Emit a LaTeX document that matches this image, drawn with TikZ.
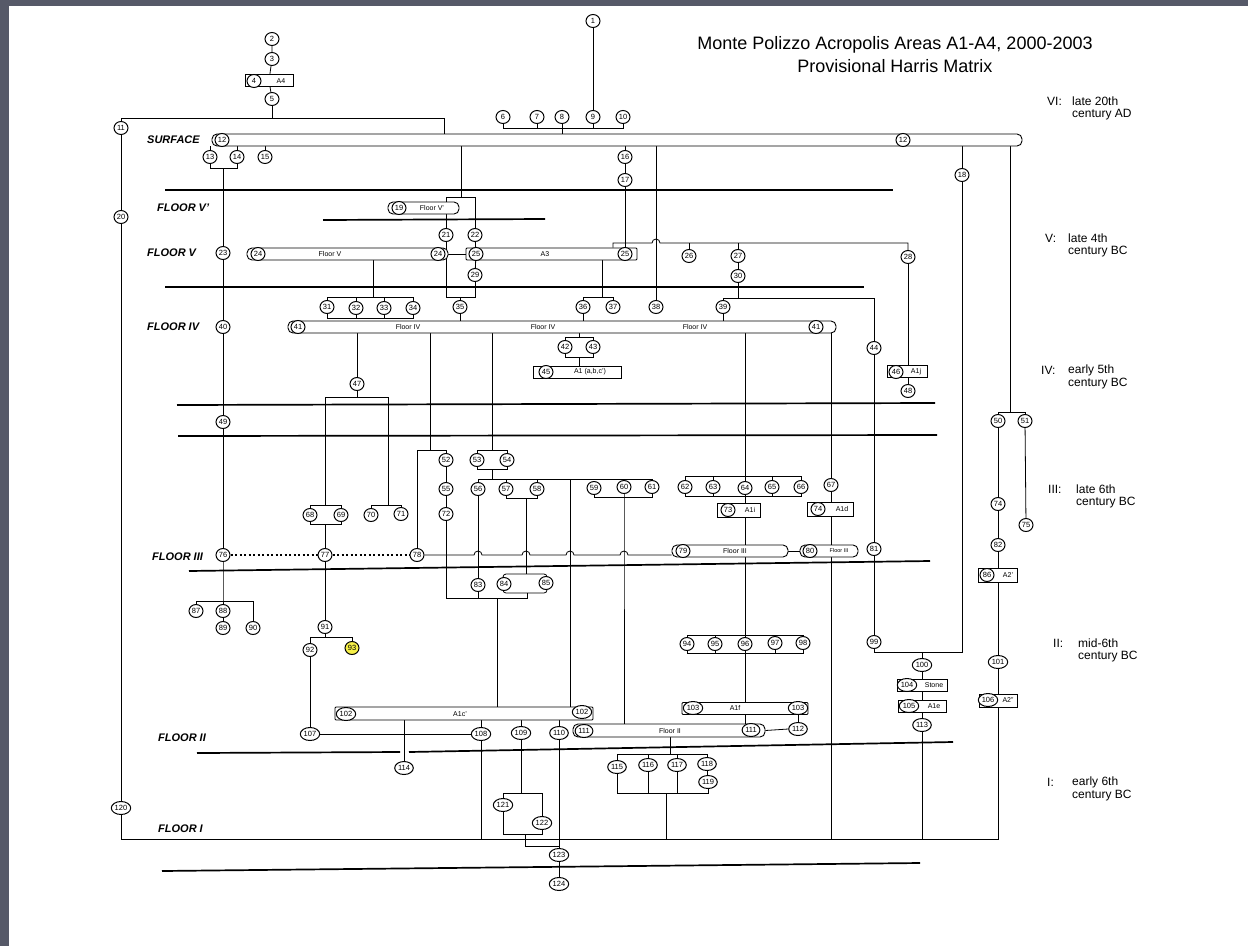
\documentclass[tikz,border=0pt]{standalone}
\usepackage{fontspec}
\setmainfont{Liberation Sans}
\usetikzlibrary{shapes.geometric}
\pgfdeclarelayer{back}
\pgfdeclarelayer{bg}
\pgfsetlayers{back,bg,main}
\definecolor{frame}{RGB}{86,89,104}
\definecolor{hilite}{RGB}{246,240,72}
\begin{document}
\begin{tikzpicture}[x=1pt,y=-1pt,
  circ/.style={ellipse,draw,line width=1pt,fill=white,inner sep=0.6pt,minimum width=14pt,minimum height=13pt,font=\fontsize{7.5}{8}\selectfont},
  bar/.style={draw,line width=0.9pt,rounded corners=5pt,fill=white,minimum height=12pt,inner sep=0pt},
  boxa/.style={draw,line width=0.9pt,fill=white,minimum height=12pt,inner sep=0pt},
  lbl/.style={font=\fontsize{7}{8}\selectfont,inner sep=0pt},
  ln/.style={line width=0.8pt},
  sep/.style={line width=1.7pt},
  floor/.style={font=\fontsize{11}{13}\selectfont\bfseries\itshape,anchor=west,inner sep=0pt},
  per/.style={font=\fontsize{12}{14}\selectfont,anchor=west,inner sep=0pt}
]
\useasboundingbox (0,0) rectangle (1248,946);
\begin{pgfonlayer}{back}
\fill[frame] (0,0) rectangle (1248,946);
\fill[white] (9,6) rectangle (1248,946);
\end{pgfonlayer}

% ---------- titles and labels
\node[font=\fontsize{18}{21}\selectfont,inner sep=0pt] (title1) at (895,45) {Monte Polizzo Acropolis Areas A1-A4, 2000-2003};
\node[font=\fontsize{18}{21}\selectfont,inner sep=0pt] (title2) at (895,66) {Provisional Harris Matrix};

\node[per] (pVIa) at (1047,101) {VI:};
\node[per] (pVIb) at (1072,101) {late 20th};
\node[per] (pVIc) at (1072,115) {century AD};
\node[per] (pVa) at (1045,238) {V:};
\node[per] (pVb) at (1068,238) {late 4th};
\node[per] (pVc) at (1068,252) {century BC};
\node[per] (pIVa) at (1041,370) {IV:};
\node[per] (pIVb) at (1068,370) {early 5th};
\node[per] (pIVc) at (1068,384) {century BC};
\node[per] (pIIIa) at (1048,489) {III:};
\node[per] (pIIIb) at (1076,489) {late 6th};
\node[per] (pIIIc) at (1076,503) {century BC};
\node[per] (pIIa) at (1053,643) {II:};
\node[per] (pIIb) at (1078,643) {mid-6th};
\node[per] (pIIc) at (1078,657) {century BC};
\node[per] (pIa) at (1047,782) {I:};
\node[per] (pIb) at (1072,782) {early 6th};
\node[per] (pIc) at (1072,796) {century BC};

\node[floor] (fS) at (147,140) {SURFACE};
\node[floor] (fV2) at (157,208) {FLOOR V'};
\node[floor] (fV) at (147,253) {FLOOR V};
\node[floor] (fIV) at (147,327) {FLOOR IV};
\node[floor] (fIII) at (152,557) {FLOOR III};
\node[floor] (fII) at (158,738) {FLOOR II};
\node[floor] (fI) at (158,829) {FLOOR I};

% ---------- bars and boxes
\node[bar,minimum width=810pt] (b12) at (617,140) {};
\node[bar,minimum width=71pt] (box19) at (423.5,208) {};
\node[bar,minimum width=201pt] (bFV) at (347.5,254) {};
\node[bar,minimum width=171pt,rounded corners=1pt] (bA3) at (551.5,254) {};
\node[bar,minimum width=548pt] (bFIV) at (562,327) {};
\node[bar,minimum width=116pt] (b79) at (730,551) {};
\node[bar,minimum width=58pt] (b80) at (829,551) {};
\node[bar,minimum width=258pt,minimum height=13pt,rounded corners=1pt] (bA1c) at (464,713.5) {};
\node[bar,minimum width=126pt,rounded corners=1pt] (bA1f) at (745,708.5) {};
\node[bar,minimum width=192pt,minimum height=13pt] (bFII) at (669,730.5) {};
\node[boxa,minimum width=48pt] (box4) at (269,80.5) {};
\node[boxa,minimum width=88pt] (box45) at (577,372) {};
\node[boxa,minimum width=40pt] (box46) at (907,371.5) {};
\node[boxa,minimum width=43pt,minimum height=14pt] (box73) at (738.5,510) {};
\node[boxa,minimum width=46pt,minimum height=14pt] (box74) at (830,509) {};
\node[boxa,minimum width=39pt,minimum height=14pt] (box86) at (998,575) {};
\node[boxa,minimum width=50pt] (box104) at (922,685.5) {};
\node[boxa,minimum width=48pt] (box105) at (922,706) {};
\node[boxa,minimum width=38pt,minimum height=13pt] (box106) at (998,700.5) {};
\node[draw,line width=0.8pt,minimum width=39pt,minimum height=41pt,inner sep=0pt] (box121) at (522.5,813.5) {};
\node[draw,line width=0.8pt,rounded corners=3pt,minimum width=44pt,minimum height=19pt,inner sep=0pt] (box84) at (525,583.5) {};

\node[lbl] (tFV) at (330,254) {Floor V};
\node[lbl] (tA3) at (545,254) {A3};
\node[lbl] (tFIVa) at (408,327) {Floor IV};
\node[lbl] (tFIVb) at (543,327) {Floor IV};
\node[lbl] (tFIVc) at (695,327) {Floor IV};
\node[lbl] (t19) at (432,208) {Floor V'};
\node[lbl] (t4) at (281,81) {A4};
\node[lbl] (t45) at (590,372) {A1 (a,b,c')};
\node[lbl] (t46) at (916,372) {A1j};
\node[lbl] (t73) at (750,510) {A1i};
\node[lbl] (t74) at (842,509) {A1d};
\node[lbl] (t79) at (735,551) {Floor III};
\node[lbl,font=\fontsize{5.5}{6}\selectfont] (t80) at (839,551) {Floor III};
\node[lbl] (t86) at (1008,575) {A2'};
\node[lbl] (t104) at (934,685) {Stone};
\node[lbl] (t105) at (934,706) {A1e};
\node[lbl] (t106) at (1008,700) {A2''};
\node[lbl] (tA1c) at (460,714) {A1c'};
\node[lbl] (tA1f) at (735,708) {A1f};
\node[lbl] (tFII) at (670,731) {Floor II};

% ---------- context circles
\node[circ] (n1) at (593,21) {1};
\node[circ] (n2) at (272,39) {2};
\node[circ] (n3) at (272,59) {3};
\node[circ] (c4) at (254,81) {4};
\node[circ] (n5) at (272,99) {5};
\node[circ] (n6) at (503,117) {6};
\node[circ] (n7) at (537,117) {7};
\node[circ] (n8) at (562,117) {8};
\node[circ] (n9) at (593,117) {9};
\node[circ] (n10) at (623,117) {10};
\node[circ] (n11) at (121,128) {11};
\node[circ] (n12a) at (222,140) {12};
\node[circ] (n12b) at (903,140) {12};
\node[circ] (n13) at (210,157) {13};
\node[circ] (n14) at (237,157) {14};
\node[circ] (n15) at (265,157) {15};
\node[circ] (n16) at (625,157) {16};
\node[circ] (n17) at (625,180) {17};
\node[circ] (n18) at (962,175) {18};
\node[circ] (c19) at (399,208) {19};
\node[circ] (n20) at (121,217) {20};
\node[circ] (n21) at (446,235) {21};
\node[circ] (n22) at (475,235) {22};
\node[circ] (n23) at (223,253) {23};
\node[circ] (n24a) at (258,254) {24};
\node[circ] (n24b) at (438,254) {24};
\node[circ] (n25a) at (476,254) {25};
\node[circ] (n25b) at (625,254) {25};
\node[circ] (n26) at (689,256) {26};
\node[circ] (n27) at (738,256) {27};
\node[circ] (n28) at (908,257) {28};
\node[circ] (n29) at (475,275) {29};
\node[circ] (n30) at (738,276) {30};
\node[circ] (n31) at (327,307) {31};
\node[circ] (n32) at (356,308) {32};
\node[circ] (n33) at (384,308) {33};
\node[circ] (n34) at (413,308) {34};
\node[circ] (n35) at (460,307) {35};
\node[circ] (n36) at (583,307) {36};
\node[circ] (n37) at (613,307) {37};
\node[circ] (n38) at (656,307) {38};
\node[circ] (n39) at (723,307) {39};
\node[circ] (n40) at (223,327) {40};
\node[circ] (n41a) at (298,327) {41};
\node[circ] (n41b) at (816,327) {41};
\node[circ] (n42) at (565,347) {42};
\node[circ] (n43) at (593,347) {43};
\node[circ] (n44) at (874,348) {44};
\node[circ] (c45) at (546,372) {45};
\node[circ] (c46) at (896,372) {46};
\node[circ] (n47) at (357,384) {47};
\node[circ] (n48) at (908,391) {48};
\node[circ] (n49) at (223,422) {49};
\node[circ] (n50) at (998,421) {50};
\node[circ] (n51) at (1025,421) {51};
\node[circ] (n52) at (446,460) {52};
\node[circ] (n53) at (477,460) {53};
\node[circ] (n54) at (507,460) {54};
\node[circ] (n55) at (446,489) {55};
\node[circ] (n56) at (478,489) {56};
\node[circ] (n57) at (506,489) {57};
\node[circ] (n58) at (537,489) {58};
\node[circ] (n59) at (594,488) {59};
\node[circ] (n60) at (624,487) {60};
\node[circ] (n61) at (652,487) {61};
\node[circ] (n62) at (685,487) {62};
\node[circ] (n63) at (713,487) {63};
\node[circ] (n64) at (745,488) {64};
\node[circ] (n65) at (772,487) {65};
\node[circ] (n66) at (801,487) {66};
\node[circ] (n67) at (831,485) {67};
\node[circ] (n68) at (310,515) {68};
\node[circ] (n69) at (341,515) {69};
\node[circ] (n70) at (371,515) {70};
\node[circ] (n71) at (401,514) {71};
\node[circ] (n72) at (446,514) {72};
\node[circ] (c73) at (728,510) {73};
\node[circ] (c74) at (818,509) {74};
\node[circ] (n74) at (998,504) {74};
\node[circ] (n75) at (1026,525) {75};
\node[circ] (n76) at (223,555) {76};
\node[circ] (n77) at (325,555) {77};
\node[circ] (n78) at (417,555) {78};
\node[circ] (c79) at (683,551) {79};
\node[circ] (c80) at (810,551) {80};
\node[circ] (n81) at (874,549) {81};
\node[circ] (n82) at (998,545) {82};
\node[circ] (n83) at (478,585) {83};
\node[circ] (n84) at (504,584) {84};
\node[circ] (n85) at (546,583) {85};
\node[circ] (c86) at (987,575) {86};
\node[circ] (n87) at (196,611) {87};
\node[circ] (n88) at (223,611) {88};
\node[circ] (n89) at (223,628) {89};
\node[circ] (n90) at (253,628) {90};
\node[circ] (n91) at (325,627) {91};
\node[circ] (n92) at (310,650) {92};
\node[circ,fill=hilite] (n93) at (352,648) {93};
\node[circ] (n94) at (687,644) {94};
\node[circ] (n95) at (715,644) {95};
\node[circ] (n96) at (745,644) {96};
\node[circ] (n97) at (775,643) {97};
\node[circ] (n98) at (803,643) {98};
\node[circ] (n99) at (874,642) {99};
\node[circ] (n100) at (922,665) {100};
\node[circ] (n101) at (998,662) {101};
\node[circ] (n102a) at (346,714) {102};
\node[circ] (n102b) at (582,712) {102};
\node[circ] (n103a) at (693,708) {103};
\node[circ] (n103b) at (798,708) {103};
\node[circ] (c104) at (907,685) {104};
\node[circ] (c105) at (909,706) {105};
\node[circ] (c106) at (988,700) {106};
\node[circ] (n107) at (310,734) {107};
\node[circ] (n108) at (481,734) {108};
\node[circ] (n109) at (521,733) {109};
\node[circ] (n110) at (559,733) {110};
\node[circ] (n111a) at (584,731) {111};
\node[circ] (n111b) at (751,730) {111};
\node[circ] (n112) at (798,729) {112};
\node[circ] (n113) at (922,725) {113};
\node[circ] (n114) at (404,768) {114};
\node[circ] (n115) at (617,767) {115};
\node[circ] (n116) at (648,765) {116};
\node[circ] (n117) at (677,765) {117};
\node[circ] (n118) at (707,764) {118};
\node[circ] (n119) at (708,782) {119};
\node[circ] (n120) at (121,808) {120};
\node[circ] (n121) at (503,805) {121};
\node[circ] (n122) at (542,823) {122};
\node[circ] (n123) at (559,855) {123};
\node[circ] (n124) at (559,884) {124};

% ---------- junction coordinates
\coordinate (j5) at (444,118);
\coordinate (j6) at (562,128);
\coordinate (bl) at (121,839);
\coordinate (br) at (998,839);
\coordinate (j13) at (223,168);
\coordinate (j87) at (223,601);
\coordinate (j19) at (461,197);
\coordinate (j19l) at (446,197);
\coordinate (j19r) at (475,197);
\coordinate (j35) at (460,297);
\coordinate (j31) at (373,297);
\coordinate (j31b) at (373,318);
\coordinate (j36) at (602,297);
\coordinate (jA) at (613,243);
\coordinate (jB) at (908,243);
\coordinate (j39) at (738,298);
\coordinate (j100) at (922,652);
\coordinate (j50) at (1010,412);
\coordinate (j42) at (579,337);
\coordinate (j42b) at (579,357);
\coordinate (j47l) at (325,397);
\coordinate (j47r) at (388,397);
\coordinate (j68) at (325,505);
\coordinate (j68b) at (325,524);
\coordinate (j70) at (388,505);
\coordinate (j91) at (325,637);
\coordinate (j121) at (525,846);
\coordinate (j52) at (430,450);
\coordinate (j83) at (497,598);
\coordinate (j85) at (527,598);
\coordinate (j53) at (492,450);
\coordinate (j53b) at (492,469);
\coordinate (j56) at (492,479);
\coordinate (j570) at (570,479);
\coordinate (j57b) at (526,498);
\coordinate (j60) at (624,497);
\coordinate (j62) at (745,476);
\coordinate (j62b) at (745,496);
\coordinate (j94) at (745,635);
\coordinate (j94b) at (745,653);
\coordinate (j115) at (670,754);
\coordinate (j115b) at (666,793);

\begin{pgfonlayer}{bg}
% separators
\draw[sep] (165,190) -- (893,190);
\draw[sep] (323,220) -- (545,219);
\draw[sep] (165,287) -- (864,287);
\draw[sep] (177,405) -- (935,403);
\draw[sep] (178,436) -- (937,435);
\draw[sep] (189,571) -- (930,561);
\draw[sep] (197,753) -- (400,752);
\draw[sep] (409,752) -- (953,742);
\draw[sep] (162,871) -- (920,863);

\begin{scope}[ln]
% top
\draw (n1) -- (n9);
\draw (n2) -- (n3) -- (box4) -- (n5);
\draw (n11.north) |- (j5) -- (j5 |- b12.north);
\draw (n5.south) -- (n5.south |- j5);
\draw (n6.south) -- (n6.south |- j6) -- (n10.south |- j6) -- (n10.south);
\foreach \k in {7,8,9} \draw (n\k.south) -- (n\k.south |- j6);
\draw (j6) -- (j6 |- b12.north);
% left column
\draw (n11) -- (n20) -- (n120) -- (bl) -- (br) -- (box106);
\foreach \k in {13,14,15} \draw (n\k.north) -- (n\k.north |- b12.south);
\draw (n13.south) -- (n13.south |- j13) -- (n14.south |- j13) -- (n14.south);
\draw (j13) -- (n23) -- (n40) -- (n49) -- (n76) -- (j87) -- (n88) -- (n89);
\draw (n87.north) -- (n87.north |- j87) -- (n90.north |- j87) -- (n90.north);
% floor V'
\draw (j19 |- b12.south) -- (j19);
\draw (j19l |- box19.north) -- (j19l) -- (j19r) -- (n22.north);
\draw (n21.north) -- (n21.north |- box19.south);
\draw (n21.south) -- (n21.south |- j35) -- (n29.south |- j35) -- (n29.south);
\draw (n35.north) -- (n35.north |- j35);
\draw (n35.south) -- (n35.south |- bFIV.north);
\draw (n24b.east) -- (bA3.west);
\draw (n22) -- (n25a) -- (n29);
% floor V
\draw (j31 |- bFV.south) -- (j31);
\draw (n31.north) -- (n31.north |- j31) -- (n34.north |- j31) -- (n34.north);
\draw (n31.south) -- (n31.south |- j31b) -- (n34.south |- j31b) -- (n34.south);
\foreach \k in {32,33} {\draw (n\k.north) -- (n\k.north |- j31); \draw (n\k.south) -- (n\k.south |- j31b);}
\draw (j36 |- bA3.south) -- (j36);
\draw (n36.north) -- (n36.north |- j36) -- (n37.north |- j36) -- (n37.north);
\draw (n36.south) -- (n36.south |- bFIV.north);
\draw (n16.north) -- (n16.north |- b12.south);
\draw (n16) -- (n17) -- (n25b);
\draw (jA |- bA3.north) -- (jA) -- (652,243) arc[start angle=180,end angle=0,radius=4pt] -- (jB) -- (n28.north);
\draw (n26.north) -- (n26.north |- jA);
\draw (n27.north) -- (n27.north |- jA);
\draw (n38.north) -- (n38.north |- b12.south);
\draw (n27) -- (n30) -- (j39);
\draw (n39.north) -- (n39.north |- j39) -- (n44.north |- j39) -- (n44.north);
\draw (n39.south) -- (n39.south |- bFIV.north);
\draw (n44) -- (n81) -- (n99);
% right columns
\draw (n18.north) -- (n18.north |- b12.south);
\draw (n99.south) -- (n99.south |- j100) -- (n18.south |- j100) -- (n18.south);
\draw (j100) -- (n100) -- (box104) -- (box105) -- (n113) -- (n113 |- bl);
\draw (j50 |- b12.south) -- (j50);
\draw (n50.north) -- (n50.north |- j50) -- (n51.north |- j50) -- (n51.north);
\draw (n50) -- (n74) -- (n82) -- (box86) -- (n101) -- (box106);
\draw (n51) -- (n75);
\draw (n28.south) -- (n28.south |- box46.north);
\draw (n48.north |- box46.south) -- (n48.north);
% floor IV
\draw (j42 |- bFIV.south) -- (j42);
\draw (n42.north) -- (n42.north |- j42) -- (n43.north |- j42) -- (n43.north);
\draw (n42.south) -- (n42.south |- j42b) -- (n43.south |- j42b) -- (n43.south);
\draw (j42b) -- (j42b |- box45.north);
\draw (n47.north) -- (n47.north |- bFIV.south);
\draw (n47.south) -- (n47.south |- j47l);
\draw (j68) -- (j47l) -- (j47r) -- (j70);
\draw (n68.north) -- (n68.north |- j68) -- (n69.north |- j68) -- (n69.north);
\draw (n68.south) -- (n68.south |- j68b) -- (n69.south |- j68b) -- (n69.south);
\draw (j68b) -- (n77);
\draw (n70.north) -- (n70.north |- j70) -- (n71.north |- j70) -- (n71.north);
\draw[line width=1.1pt,dash pattern=on 2pt off 2.5pt] (n76.east) -- (n77.west) (n77.east) -- (n78.west);
\draw (n77) -- (n91);
\draw (n91.south) -- (j91);
\draw (n92.north) -- (n92.north |- j91) -- (n93.north |- j91) -- (n93.north);
\draw (n92) -- (n107);
\draw (n107.east) -- (n108.west);
\draw (n108.north) -- (n108.north |- bA1c.south);
\draw (n108.south) -- (n108.south |- bl);
\draw (n114.north) -- (n114.north |- bA1c.south);
\draw (n109.north) -- (n109.north |- bA1c.south);
\draw (n109.south) -- (n109.south |- box121.north);
\draw (j121 |- box121.south) -- (j121) -- (j121 -| n123);
\draw (n110.north) -- (n110.north |- bA1c.south);
\draw (n110) -- (n123) -- (n124);
% floor III area
\draw (j52 |- bFIV.south) -- (j52);
\draw (n78.north) -- (n78.north |- j52) -- (n52.north |- j52) -- (n52.north);
\draw (n52) -- (n55) -- (n72);
\draw (n72.south) -- (n72.south |- j83) -- (j85) -- (j85 |- box84.south);
\draw (n83.south) -- (n83.south |- j83);
\draw (j83) -- (j83 |- bA1c.north);
\draw (j53 |- bFIV.south) -- (j53);
\draw (n53.north) -- (n53.north |- j53) -- (n54.north |- j53) -- (n54.north);
\draw (n53.south) -- (n53.south |- j53b) -- (n54.south |- j53b) -- (n54.south);
\draw (j53b) -- (j56);
\draw (n56.north) -- (n56.north |- j56) -- (n61.north |- j56) -- (n61.north);
\draw (n57.north) -- (n57.north |- j56);
\draw (n58.north) -- (n58.north |- j56);
\draw (j570) -- (j570 |- bA1c.north);
\draw (n56) -- (n83);
\draw (n57.south) -- (n57.south |- j57b) -- (n58.south |- j57b) -- (n58.south);
\draw (j57b) -- (j57b |- box84.north);
\draw (n59.south) -- (n59.south |- j60) -- (n61.south |- j60) -- (n61.south);
\draw (n60.south) -- (j60) -- (j60 |- bFII.north);
\draw (n78.east) -- (474,555) arc[start angle=180,end angle=0,radius=4pt]
  -- (522,555) arc[start angle=180,end angle=0,radius=4pt]
  -- (566,555) arc[start angle=180,end angle=0,radius=4pt]
  -- (620,555) arc[start angle=180,end angle=0,radius=4pt]
  -- (n78.east -| b79.west);
\draw (b79.east) -- (b80.west);
\draw (j62 |- bFIV.south) -- (j62);
\draw (n62.north) -- (n62.north |- j62) -- (n66.north |- j62) -- (n66.north);
\draw (n62.south) -- (n62.south |- j62b) -- (n66.south |- j62b) -- (n66.south);
\foreach \k in {63,64,65} {\draw (n\k.north) -- (n\k.north |- j62); \draw (n\k.south) -- (n\k.south |- j62b);}
\draw (j62b) -- (j94);
\draw (n94.north) -- (n94.north |- j94) -- (n98.north |- j94) -- (n98.north);
\draw (n94.south) -- (n94.south |- j94b) -- (n98.south |- j94b) -- (n98.south);
\foreach \k in {95,96,97} {\draw (n\k.north) -- (n\k.north |- j94); \draw (n\k.south) -- (n\k.south |- j94b);}
\draw (j94b) -- (j94b |- bFII.north);
\draw (n67.north) -- (n67.north |- bFIV.south);
\draw (n67) -- (n67 |- bl);
% floor II
\draw (n103b.south) -- (n112.north);
\draw (bFII.east) -- (n112.west);
\draw (j115 |- bFII.south) -- (j115);
\draw (n115.north) -- (n115.north |- j115) -- (n118.north |- j115) -- (n118.north);
\draw (n116.north) -- (n116.north |- j115);
\draw (n117.north) -- (n117.north |- j115);
\draw (n118) -- (n119);
\draw (n115.south) -- (n115.south |- j115b) -- (n119.south |- j115b) -- (n119.south);
\draw (n116.south) -- (n116.south |- j115b);
\draw (n117.south) -- (n117.south |- j115b);
\draw (j115b) -- (j115b |- bl);
\end{scope}
\end{pgfonlayer}
\end{tikzpicture}
\end{document}
